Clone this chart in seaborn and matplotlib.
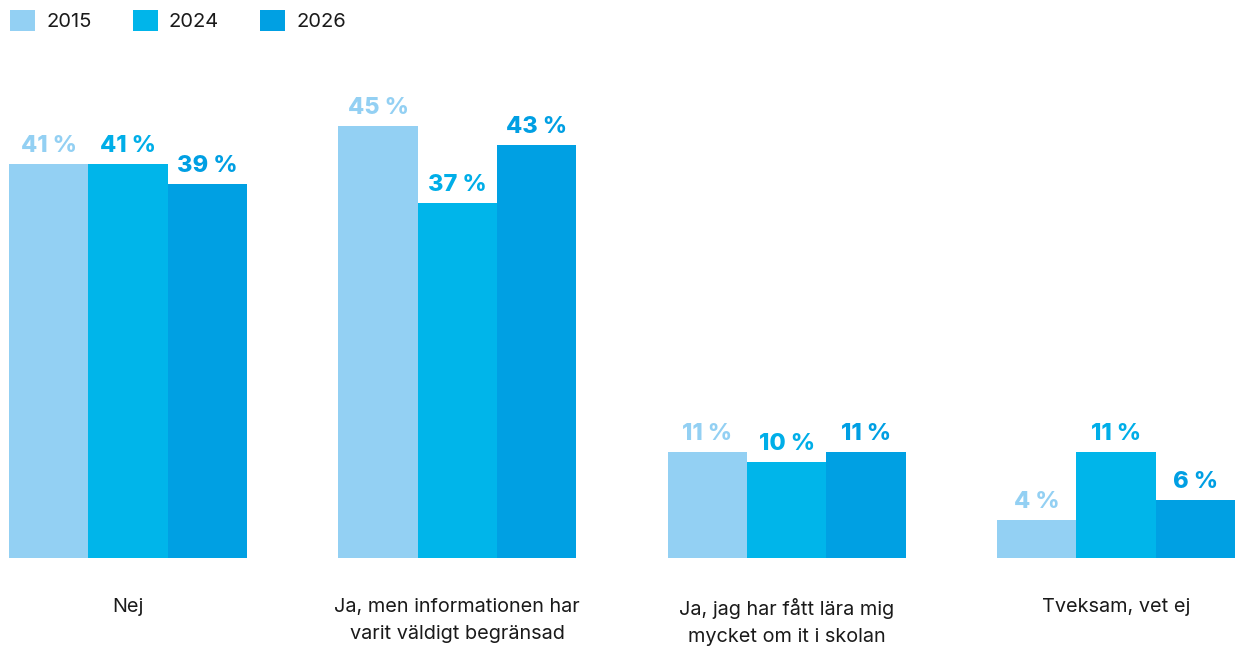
import pandas as pd
import matplotlib.pyplot as plt
import seaborn as sns
from matplotlib.patches import Patch

# Data
categories = ['Nej',
              'Ja, men informationen har\nvarit väldigt begränsad',
              'Ja, jag har fått lära mig\nmycket om it i skolan',
              'Tveksam, vet ej']
years = ['2015', '2024', '2026']
values_2015 = [41, 45, 11, 4]
values_2024 = [41, 37, 10, 11]
values_2026 = [39, 43, 11, 6]

colors = ['#93D0F3', '#00B5EA', '#00A0E3']
label_colors = ['#93D0F3', '#00AEE8', '#009FE3']

df = pd.DataFrame({
    'Kategori': categories * 3,
    'År': [y for y in years for _ in categories],
    'Andel': values_2015 + values_2024 + values_2026,
})

sns.set_theme(style='white')
plt.rcParams['font.family'] = ['Inter', 'DejaVu Sans']

fig = plt.figure(figsize=(12.42, 6.46), dpi=100)
ax = fig.add_axes([9 / 1242, 88 / 646, 1226 / 1242, 450 / 646])

sns.barplot(data=df, x='Kategori', y='Andel', hue='År', order=categories,
            hue_order=years, palette=colors, width=0.722, gap=0,
            saturation=1, legend=False, linewidth=0, ax=ax)

for cont, c in zip(ax.containers, label_colors):
    ax.bar_label(cont, labels=[f'{int(v)} %' for v in cont.datavalues],
                 padding=5, color=c, fontsize=17, fontweight='heavy',
                 clip_on=False)

ax.set_xlim(-0.361, 3.361)
ax.set_ylim(0, 450 / 9.6)
ax.set_xlabel('')
ax.set_ylabel('')
ax.set_yticks([])
ax.tick_params(axis='x', length=0, pad=29, labelsize=14.3, labelcolor='#1a1a1a')
for lbl in ax.get_xticklabels():
    lbl.set_linespacing(1.6)
for s in ax.spines.values():
    s.set_visible(False)

handles = [Patch(facecolor=c, edgecolor='none', label=y) for c, y in zip(colors, years)]
fig.legend(handles=handles, loc='upper left', bbox_to_anchor=(0.0, 1.0),
           ncol=3, frameon=False, fontsize=14.5, handlelength=1.24,
           handleheight=1.24, handletextpad=0.55, columnspacing=2.05,
           borderaxespad=0.2, borderpad=0.3, labelcolor='#1a1a1a')

fig.savefig('out.png', dpi=100)
